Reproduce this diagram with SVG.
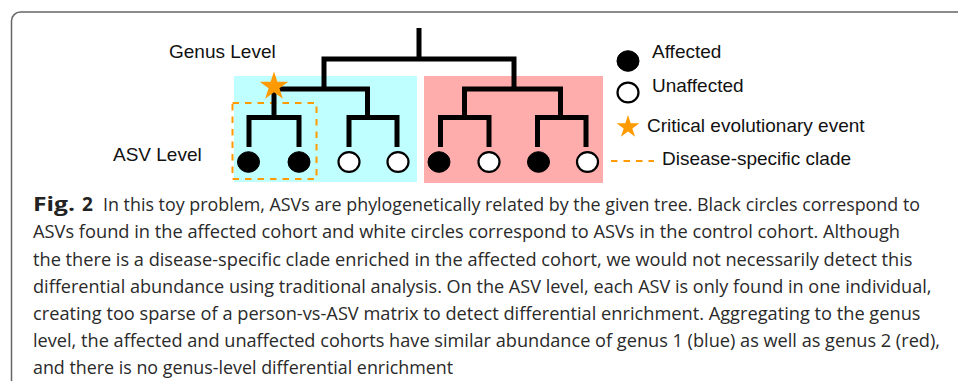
<svg xmlns="http://www.w3.org/2000/svg" width="958" height="381" viewBox="0 0 958 381">
  <style>
    .tree { fill: none; stroke: #000; stroke-width: 5; stroke-linejoin: miter; stroke-linecap: butt; }
    .lbl { font-family: "Liberation Sans", Arial, sans-serif; font-size: 19px; fill: #111; }
    .cap { font-family: "Open Sans", "Noto Sans", sans-serif; font-size: 18px; fill: #2a2a2a; }
    .capb { font-family: "Open Sans", "Noto Sans", sans-serif; font-size: 19px; font-weight: bold; fill: #222; }
    .aff { fill: #000; stroke: #000; stroke-width: 1; }
    .unaff { fill: #fff; stroke: #000; stroke-width: 2.2; }
    .dash { fill: none; stroke: #ff9a00; stroke-width: 2; stroke-dasharray: 6.5 6; }
    .star { fill: #ff9a00; }
  </style>
  <defs>
    <path id="starshape" d="M0,-15 L3.37,-4.64 L14.27,-4.64 L5.45,1.77 L8.82,12.14 L0,5.73 L-8.82,12.14 L-5.45,1.77 L-14.27,-4.64 L-3.37,-4.64 Z"/>
  </defs>
  <rect width="958" height="381" fill="#fff"/>
  <!-- frame -->
  <rect id="frame" x="11.5" y="12" width="1000" height="420" rx="9" ry="9" fill="none" stroke="#666" stroke-width="1.5"/>

  <!-- genus backgrounds -->
  <g id="genus1"><rect x="234" y="76" width="183" height="106" fill="#c0ffff"/></g>
  <g id="genus2"><rect x="424" y="76" width="179" height="107" fill="#ffacac"/></g>
  <g id="clade"><rect x="232.5" y="103" width="84" height="76" class="dash"/></g>

  <g id="labels">
    <text class="lbl" x="169" y="58">Genus Level</text>
    <text class="lbl" x="113" y="161">ASV Level</text>
  </g>

  <g id="connectors">
    <path class="tree" d="M419,28 V59"/>
    <path class="tree" d="M324,89 V59 H514 V89"/>
    <path class="tree" d="M274,117.5 V89 H367.5 V117.5"/>
    <path class="tree" d="M464.5,117.5 V89 H560.5 V117.5"/>
    <path class="tree" d="M249,147 V117.5 H299 V147"/>
    <path class="tree" d="M349,147 V117.5 H397 V147"/>
    <path class="tree" d="M440.5,147 V117.5 H489 V147"/>
    <path class="tree" d="M537.5,147 V117.5 H586 V147"/>
  </g>

  <g id="event"><use href="#starshape" x="274" y="86.5" class="star"/></g>

  <g id="leaves">
    <g id="leaf1"><ellipse class="aff" cx="248.5" cy="162" rx="11" ry="10.3"/></g>
    <g id="leaf2"><ellipse class="aff" cx="299" cy="162" rx="11" ry="10.3"/></g>
    <g id="leaf3"><ellipse class="unaff" cx="349" cy="162" rx="10.5" ry="9.8"/></g>
    <g id="leaf4"><ellipse class="unaff" cx="398" cy="162" rx="10.5" ry="9.8"/></g>
    <g id="leaf5"><ellipse class="aff" cx="439" cy="162" rx="11" ry="10.3"/></g>
    <g id="leaf6"><ellipse class="unaff" cx="489" cy="162" rx="10.5" ry="9.8"/></g>
    <g id="leaf7"><ellipse class="aff" cx="538.5" cy="162" rx="11" ry="10.3"/></g>
    <g id="leaf8"><ellipse class="unaff" cx="587.5" cy="162" rx="10.5" ry="9.8"/></g>
  </g>

  <g id="legend">
    <ellipse class="aff" cx="628" cy="61" rx="11" ry="10.3"/>
    <text class="lbl" x="652" y="58">Affected</text>
    <ellipse class="unaff" cx="628" cy="92.5" rx="10.5" ry="9.8"/>
    <text class="lbl" x="652" y="91.5">Unaffected</text>
    <use href="#starshape" class="star" transform="translate(628,127) scale(0.8)"/>
    <text class="lbl" x="647" y="132">Critical evolutionary event</text>
    <line class="dash" x1="611" y1="161" x2="654" y2="161"/>
    <text class="lbl" x="662" y="165">Disease-specific clade</text>
  </g>

  <g id="caption">
    <text class="capb" x="33" y="211" textLength="42" lengthAdjust="spacingAndGlyphs">Fig.</text>
    <text class="capb" x="82" y="211">2</text>
    <text class="cap" x="103" y="211" textLength="817" lengthAdjust="spacingAndGlyphs">In this toy problem, ASVs are phylogenetically related by the given tree. Black circles correspond to</text>
    <text class="cap" x="33" y="238" textLength="867" lengthAdjust="spacingAndGlyphs">ASVs found in the affected cohort and white circles correspond to ASVs in the control cohort. Although</text>
    <text class="cap" x="33" y="265.5" textLength="879.5" lengthAdjust="spacingAndGlyphs">the there is a disease-specific clade enriched in the affected cohort, we would not necessarily detect this</text>
    <text class="cap" x="33" y="292.5" textLength="898.5" lengthAdjust="spacingAndGlyphs">differential abundance using traditional analysis. On the ASV level, each ASV is only found in one individual,</text>
    <text class="cap" x="33" y="319.5" textLength="887.5" lengthAdjust="spacingAndGlyphs">creating too sparse of a person-vs-ASV matrix to detect differential enrichment. Aggregating to the genus</text>
    <text class="cap" x="33" y="346.5" textLength="907" lengthAdjust="spacingAndGlyphs">level, the affected and unaffected cohorts have similar abundance of genus 1 (blue) as well as genus 2 (red),</text>
    <text class="cap" x="33" y="374" textLength="420" lengthAdjust="spacingAndGlyphs">and there is no genus-level differential enrichment</text>
  </g>
</svg>
